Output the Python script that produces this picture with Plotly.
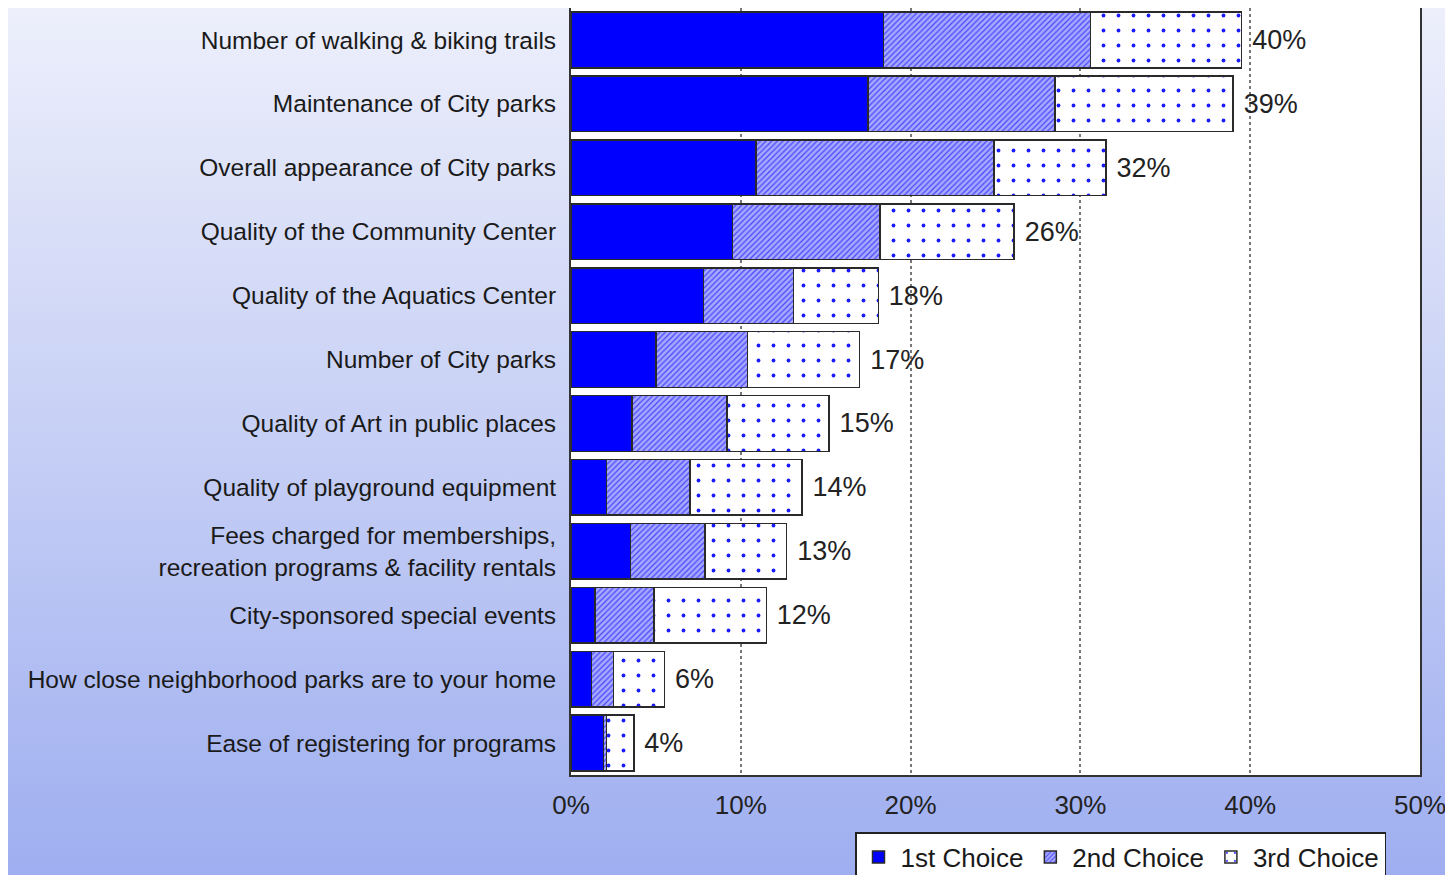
import base64
import plotly.graph_objects as go

categories = [
    "Number of walking & biking trails",
    "Maintenance of City parks",
    "Overall appearance of City parks",
    "Quality of the Community Center",
    "Quality of the Aquatics Center",
    "Number of City parks",
    "Quality of Art in public places",
    "Quality of playground equipment",
    "Fees charged for memberships,<br>recreation programs & facility rentals",
    "City-sponsored special events",
    "How close neighborhood parks are to your home",
    "Ease of registering for programs",
]
first_choice = [18.4, 17.5, 10.9, 9.5, 7.8, 5.0, 3.6, 2.1, 3.5, 1.4, 1.2, 1.9]
second_choice = [12.2, 11.0, 14.0, 8.7, 5.3, 5.4, 5.6, 4.9, 4.4, 3.5, 1.3, 0.2]
third_choice = [8.9, 10.5, 6.6, 7.9, 5.0, 6.6, 6.0, 6.6, 4.8, 6.6, 3.0, 1.6]
total_labels = ["40%", "39%", "32%", "26%", "18%", "17%", "15%", "14%", "13%", "12%", "6%", "4%"]
x_ticks = [0, 10, 20, 30, 40, 50]
x_tick_labels = ["0%", "10%", "20%", "30%", "40%", "50%"]

FONT = "Arial, Liberation Sans, sans-serif"
# the page body adds an 8px offset; the figure is sized to fill the rest of the window
OFF = 8
W, H = 1453 - OFF, 875 - OFF
ML, MR, MT, MB = 571 - OFF, 33, 8 - OFF, 100
PW = W - ML - MR
PH = H - MT - MB

outline = dict(color="#2a2a2a", width=1.5)

fig = go.Figure()
fig.add_trace(go.Bar(
    y=categories, x=first_choice, orientation="h", name="1st Choice",
    marker=dict(color="#0000ff", line=outline),
))
fig.add_trace(go.Bar(
    y=categories, x=second_choice, orientation="h", name="2nd Choice",
    marker=dict(color="#9a9aff", line=outline,
                pattern=dict(shape="/", fgcolor="#4646ff", bgcolor="#a8a8ff",
                             size=4, solidity=0.3, fillmode="replace")),
))
fig.add_trace(go.Bar(
    y=categories, x=third_choice, orientation="h", name="3rd Choice",
    marker=dict(color="#ffffff", line=outline,
                pattern=dict(shape=".", fgcolor="#1a1aff", bgcolor="#ffffff",
                             size=15, solidity=0.05, fillmode="replace")),
    text=[" " + t for t in total_labels], textposition="outside",
    textfont=dict(size=27, color="#222222", family=FONT),
    constraintext="none", cliponaxis=False,
))

svg = ('<svg xmlns="http://www.w3.org/2000/svg" width="100" height="100" '
       'preserveAspectRatio="none"><defs><linearGradient id="g" x1="0" y1="0" x2="0" y2="1">'
       '<stop offset="0" stop-color="#edeffb"/><stop offset="0.5" stop-color="#c6cff5"/>'
       '<stop offset="1" stop-color="#9eaef0"/></linearGradient></defs>'
       '<rect width="100" height="100" fill="url(#g)"/></svg>')
src = "data:image/svg+xml;base64," + base64.b64encode(svg.encode()).decode()

fig.update_layout(
    width=W, height=H,
    barmode="stack", bargap=0.13,
    margin=dict(l=ML, r=MR, t=MT, b=MB, autoexpand=False),
    paper_bgcolor="#c6cff5", plot_bgcolor="white",
    font=dict(family=FONT, color="#1a1a1a"),
    images=[dict(source=src, xref="paper", yref="paper",
                 x=-ML / PW, y=1 + MT / PH, sizex=W / PW, sizey=H / PH,
                 xanchor="left", yanchor="top", sizing="stretch", layer="below")],
    shapes=[dict(type="rect", xref="paper", yref="paper", x0=0, x1=1, y0=0, y1=1,
                 fillcolor="white", line=dict(width=0), layer="below")],
    legend=dict(orientation="h", x=(855 - 571) / PW, y=-(832 - 775) / PH,
                xanchor="left", yanchor="top", bgcolor="white",
                bordercolor="#222222", borderwidth=1.5,
                font=dict(size=26, family=FONT, color="#1a1a1a"),
                itemwidth=34, traceorder="normal", tracegroupgap=0),
    showlegend=True,
)
fig.update_xaxes(
    range=[0, 50], tickvals=x_ticks, ticktext=x_tick_labels,
    showgrid=True, gridcolor="#777777", griddash="dot", gridwidth=2,
    zeroline=False, showline=True, linecolor="#333333", linewidth=2, mirror=True,
    ticks="", tickfont=dict(size=26, color="#222222", family=FONT),
    ticklabelstandoff=6, fixedrange=True,
)
fig.update_yaxes(
    autorange="reversed", showgrid=False, zeroline=False,
    showline=True, linecolor="#333333", linewidth=2, mirror=True,
    ticks="", tickfont=dict(size=24.5, color="#1a1a1a", family=FONT),
    ticklabelstandoff=8, fixedrange=True,
)

fig.write_html("out.html")
